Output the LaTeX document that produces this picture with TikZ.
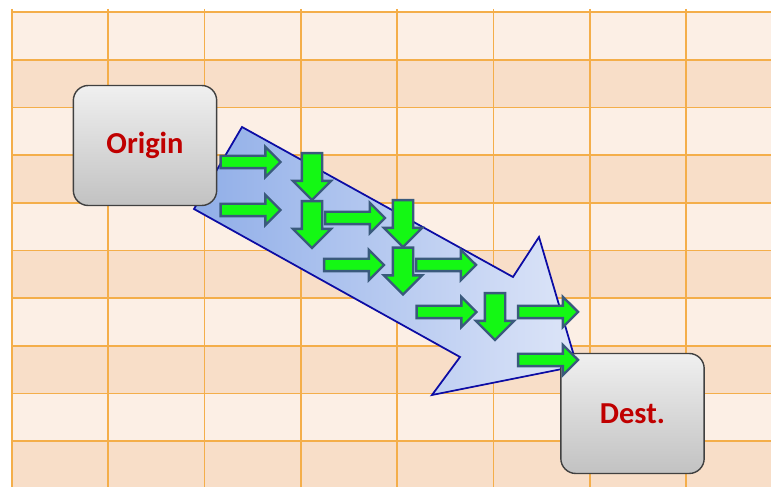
\documentclass[tikz,border=0pt]{standalone}
\usepackage{fontspec}
\setmainfont{Carlito}
\usetikzlibrary{shapes.arrows}
\definecolor{cellpale}{HTML}{FCEFE5}
\definecolor{celldark}{HTML}{F8DEC8}
\definecolor{gridline}{HTML}{F4AE4A}
\definecolor{flowtail}{HTML}{90AEE8}
\definecolor{flowhead}{HTML}{DDE5F8}
\definecolor{flowedge}{HTML}{0C0CA4}
\definecolor{hopfill}{HTML}{14F814}
\definecolor{hopedge}{HTML}{3A5A7C}
\definecolor{labelred}{HTML}{C00000}

\begin{document}
\begin{tikzpicture}[x=0.03cm, y=-0.03cm,
    place/.style={draw=black!75, line width=1.2pt, rounded corners=0.45cm,
        top color=black!6, bottom color=black!24, minimum width=4.3cm,
        minimum height=3.6cm, text=labelred, font=\fontsize{26}{30}\selectfont\bfseries},
    hop/.style={single arrow, draw=hopedge, fill=hopfill, line width=2pt,
        minimum height=#1, single arrow head extend=0.27cm, inner sep=0.15cm},
    drop/.style={hop=#1, rotate=-90, inner sep=0.27cm}]
    \useasboundingbox (0,0) rectangle (771,487);
    \clip (0,0) rectangle (771,487);

    % striped grid
    \fill[cellpale] (12,12) rectangle (771,487);
    \foreach \r in {1,3,...,9}
        \fill[celldark] (12,{12+47.7*\r}) rectangle (771,{12+47.7*(\r+1)});
    \foreach \r in {0,...,10}
        \draw[gridline, line width=1.5pt] (12,{12+47.7*\r}) -- (771,{12+47.7*\r});
    \foreach \c in {0,...,8}
        \draw[gridline, line width=1.5pt] ({12+96.3*\c},9) -- ({12+96.3*\c},487);

    % overall flow
    \draw[flowedge, line width=1.5pt, left color=flowtail, right color=flowhead]
        (242,127) -- (513,277) -- (539,237) -- (577,366) -- (432,395)
        -- (460,357) -- (194,209) -- cycle;

    \node[place] (origin) at (145,145.5) {Origin};
    \node[place] (dest) at (632.5,413.5) {Dest.};

    % unit moves
    \foreach \x/\y [count=\i] in {247.5/162, 247.5/210, 352/218, 351/265,
            443/265, 443.5/312, 545/312, 545/360}
        \node[hop=1.8cm] (r\i) at (\x,\y) {};
    \foreach \x/\y [count=\i] in {312/171.5, 312/219.5, 403/218.5, 403/266, 495/311.5}
        \node[drop=1.41cm] (d\i) at (\x,\y) {};
\end{tikzpicture}
\end{document}
